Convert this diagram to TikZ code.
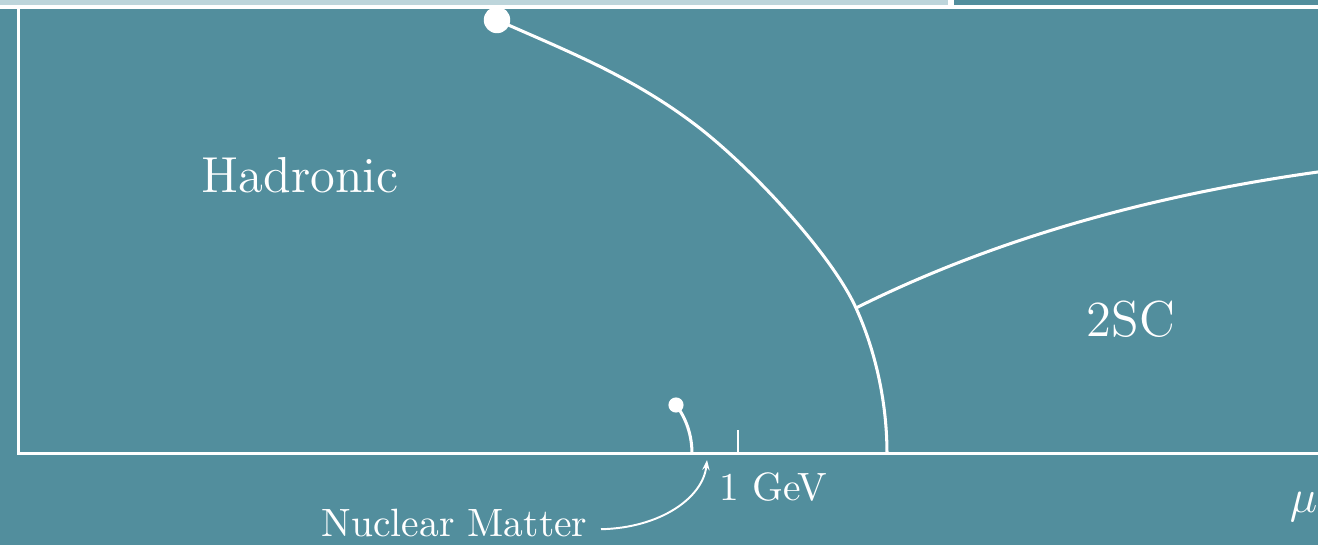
\documentclass[tikz,border=0pt]{standalone}
\usetikzlibrary{arrows.meta}
\definecolor{bgteal}{HTML}{528E9D}
\definecolor{stripl}{HTML}{BDD5DB}
\begin{document}
\begin{tikzpicture}[x=0.2571pt,y=-0.2571pt,
  phase/.style={draw=white,line width=0.78pt},
  axis/.style={draw=white,line width=0.75pt},
  thin/.style={draw=white,line width=0.5pt},
  lbl/.style={text=white,inner sep=0pt,anchor=base west,font=\fontsize{10.15}{12}\selectfont},
  biglbl/.style={text=white,inner sep=0pt,anchor=base west,font=\fontsize{13}{15}\selectfont},
  bigdot/.style={circle,fill=white,inner sep=0pt,minimum size=6.8pt},
  smalldot/.style={circle,fill=white,inner sep=0pt,minimum size=3.9pt}]
\useasboundingbox (0,0) rectangle (1318,545);
\clip (0,0) rectangle (1318,545);
% background and top strip
\fill[bgteal] (0,0) rectangle (1318,545);
\fill[white] (0,0) rectangle (1318,9);
\fill[stripl] (0,0) rectangle (948,5.5);
\fill[bgteal] (954,0) rectangle (1318,5.5);
% axes
\coordinate (O) at (18.5,453.5);
\coordinate (Ytop) at (18.5,9);
\coordinate (Xend) at (1330,453.5);
\draw[axis] (Ytop) -- (O) -- (Xend);
% tick at 1 GeV
\coordinate (tk) at (738,453.5);
\coordinate (tktop) at (738,430);
\draw[thin] (tk) -- (tktop);
% dots and key points
\node[bigdot] (cp) at (497,20) {};
\node[smalldot] (nm) at (676,405) {};
\coordinate (M) at (693,123);
\coordinate (J) at (856,308);
\coordinate (Tc) at (887,453.5);
\coordinate (Nm0) at (692,453.5);
\coordinate (Rend) at (1318,172);
% main phase boundary
\draw[phase] (cp.center) .. controls (562,49) and (628,74.25) .. (M)
  .. controls (748,164) and (831,253) .. (J)
  .. controls (876,352) and (887,403.5) .. (Tc);
% 2SC boundary
\draw[phase] (J) .. controls (1006,233) and (1168,193) .. (Rend) -- ++(30,-4);
% nuclear matter line
\draw[phase] (nm.center) .. controls (686,418) and (692,435) .. (Nm0);
% labels
\node[biglbl] (had) at (201,193) {Hadronic};
\node[biglbl] (csc) at (1086,337) {2SC};
\node[lbl] (gev) at (719,501) {1 GeV};
\node[lbl] (mu) at (1289,513) {\fontsize{12.4}{15}\selectfont$\mu$};
\node[lbl] (nml) at (321,537) {Nuclear Matter};
\coordinate (nmtip) at (707,460);
\draw[thin,-{Stealth[length=2.6pt,width=1.9pt]}] ([xshift=3.3pt,yshift=2pt]nml.base east) .. controls (660,528) and (703,498) .. (nmtip);
\end{tikzpicture}
\end{document}
